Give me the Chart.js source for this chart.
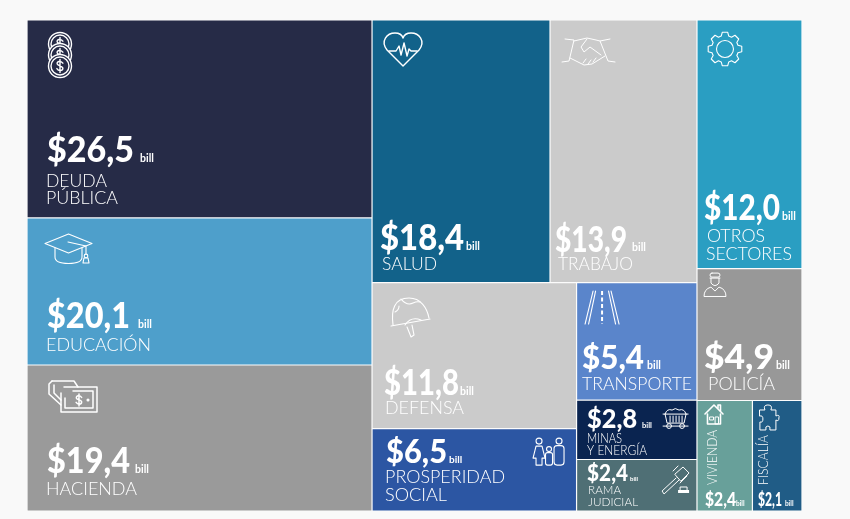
<!DOCTYPE html>
<html><head><meta charset="utf-8">
<style>html,body{margin:0;padding:0;background:#f9f9f9}canvas{display:block}</style>
<script src="https://cdn.jsdelivr.net/npm/chart.js@4/dist/chart.umd.js"></script>
</head><body><canvas id="c" width="850" height="519"></canvas>
<script>
// Labels printed on the chart, in billions
const sectors = ['DEUDA PÚBLICA','EDUCACIÓN','HACIENDA','SALUD','TRABAJO','DEFENSA','PROSPERIDAD SOCIAL','TRANSPORTE','MINAS Y ENERGÍA','RAMA JUDICIAL','OTROS SECTORES','POLICÍA','VIVIENDA','FISCALÍA'];
const values = [26.5,20.1,19.4,18.4,13.9,11.8,6.5,5.4,2.8,2.4,12.0,4.9,2.4,2.1];
// Share of the treemap area that each cell occupies in the picture, in percent
const areaShare = [17.95,13.33,13.24,12.28,10.14,7.85,4.43,3.72,1.88,1.63,6.86,3.64,1.61,1.44];
const colors = ['#262b47','#4e9fcb','#9a9a9a','#12628a','#cbcbcb','#cbcbcb','#2c56a3','#5a85cb','#0a2450','#4f6f75','#2a9ec2','#989898','#68a09a','#205c86'];

// Nesting of the treemap: 'h' splits left to right, 'v' splits top to bottom
const tree = ['h',
  ['v',0,1,2],
  ['v',['h',3,4],['h',['v',5,6],['v',7,8,9]]],
  ['v',10,11,['h',12,13]]
];
function weight(n){return typeof n==='number'?areaShare[n]:n.slice(1).reduce((s,c)=>s+weight(c),0);}
const cells=[];
function layout(n,x0,y0,x1,y1){
  if(typeof n==='number'){cells[n]={x0,x1,y0,y1};return;}
  const tot=weight(n);let p=n[0]==='h'?x0:y0;
  n.slice(1).forEach(c=>{
    const f=weight(c)/tot;
    if(n[0]==='h'){const q=p+f*(x1-x0);layout(c,p,y0,q,y1);p=q;}
    else{const q=p+f*(y1-y0);layout(c,x0,p,x1,q);p=q;}
  });
}
layout(tree,0,0,100,100);

class TreeCell extends Chart.BarController{
  static id='treecell';
  static defaults={};
  _calculateBarIndexPixels(index){
    const d=this.getDataset().data[index],s=this._cachedMeta.iScale;
    const a=s.getPixelForValue(d.x0),b=s.getPixelForValue(d.x1);
    return {base:a,head:b,center:(a+b)/2,size:b-a};
  }
}
Chart.register(TreeCell);

function dollar(g,cx,cy,s){
  g.beginPath();
  g.moveTo(cx+s*.55,cy-s*.55);
  g.bezierCurveTo(cx+s*.2,cy-s,cx-s*.65,cy-s,cx-s*.55,cy-s*.4);
  g.bezierCurveTo(cx-s*.5,cy,cx+s*.6,cy-s*.05,cx+s*.55,cy+s*.45);
  g.bezierCurveTo(cx+s*.5,cy+s,cx-s*.3,cy+s,cx-s*.6,cy+s*.5);
  g.moveTo(cx,cy-s*1.25);g.lineTo(cx,cy+s*1.25);
  g.stroke();
}
function poly(g,pts,close){
  g.beginPath();pts.forEach((p,i)=>i?g.lineTo(p[0],p[1]):g.moveTo(p[0],p[1]));
  if(close)g.closePath();g.stroke();
}
function circ(g,x,y,r,fill){g.beginPath();g.arc(x,y,r,0,Math.PI*2);if(fill){g.fillStyle=fill;g.fill();}g.stroke();}

const icons={
  coins(g,fill){
    [11,22,33].forEach(y=>{circ(g,12,y,11.5,fill);circ(g,12,y,9,fill);dollar(g,12,y,5.2);});
  },
  cap(g){
    g.lineWidth=1.1;
    poly(g,[[0,9.5],[23.5,0],[47,9.5],[23.5,19]],true);
    g.beginPath();g.moveTo(10,14);g.lineTo(10,23);g.quadraticCurveTo(10,29.5,23.5,29.5);g.quadraticCurveTo(37,29.5,37,23);g.lineTo(37,14);g.stroke();
    poly(g,[[23,8],[41,12],[41,20]]);
    circ(g,41,22,1.8);
    poly(g,[[39,24],[43,24],[44,29],[38,29]],true);
  },
  bills(g){
    g.lineWidth=1.5;
    poly(g,[[3,0],[25,0],[29,6]]);
    poly(g,[[3,0],[0,3],[0,13],[12,24]]);
    poly(g,[[5,4],[5,12],[12,19]]);
    poly(g,[[15,6],[48,6],[48,31],[12,31],[12,12]]);
    poly(g,[[24,10],[44,10],[44,27],[16,27],[16,17]]);
    dollar(g,30,19,4.8);
    circ(g,39,19,0.8);
  },
  heart(g){
    g.beginPath();g.moveTo(19,33);g.lineTo(3,17);g.bezierCurveTo(-4,8,3,0,11,0);g.bezierCurveTo(15,0,18,2,19,5);
    g.bezierCurveTo(20,2,23,0,27,0);g.bezierCurveTo(35,0,42,8,35,17);g.closePath();g.stroke();
    poly(g,[[5,18],[12,18],[15,13],[17,22],[20,10],[23,23],[25,16],[27,18],[33,18]]);
  },
  hands(g){
    g.lineWidth=1;
    poly(g,[[3,1],[12,2],[7,23],[0,24]]);
    poly(g,[[48,1],[38,3],[46,23],[53,24]]);
    poly(g,[[12,3],[25,0],[34,2],[38,3]]);
    poly(g,[[8,20],[22,27],[30,26],[43,18]]);
    poly(g,[[25,1],[19,9],[22,14],[28,9],[39,17]]);
    poly(g,[[21,25],[24,21]]);poly(g,[[26,26],[29,22]]);poly(g,[[31,24],[34,20]]);
  },
  gear(g){
    g.lineWidth=1.1;
    const n=8,pts=[];
    for(let i=0;i<n;i++){
      const a=i/n*Math.PI*2-Math.PI/2,w=Math.PI*2/n;
      pts.push([a-w*.36,13.5],[a-w*.2,17],[a+w*.2,17],[a+w*.36,13.5]);
    }
    poly(g,pts.map(p=>[p[1]*Math.cos(p[0]),p[1]*Math.sin(p[0])]),true);
    circ(g,0,0,8.5);
  },
  helmet(g){
    g.lineWidth=1.1;
    g.beginPath();g.moveTo(2,27);g.bezierCurveTo(0,12,3,0,18,0);g.bezierCurveTo(30,0,36,10,38,20);g.stroke();
    poly(g,[[0,28],[39,21]]);
    g.beginPath();g.moveTo(14,27);g.quadraticCurveTo(20,18,30,22);g.stroke();
    poly(g,[[16,29],[20,39],[23,37],[21,27]]);
    g.beginPath();g.moveTo(10,1);g.quadraticCurveTo(16,8,22,5);g.quadraticCurveTo(26,3,29,4);g.stroke();
    g.beginPath();g.moveTo(4,14);g.quadraticCurveTo(8,12,8,8);g.stroke();
  },
  family(g){
    g.lineWidth=1.1;
    circ(g,6,3,3);circ(g,26,3,3);circ(g,16,11,2.5);
    poly(g,[[3,8],[9,8],[12,20],[9,20],[9,27],[3,27],[3,20],[0,20]],true);
    g.beginPath();g.roundRect(21,7.5,10,19.5,3);g.stroke();
    g.beginPath();g.roundRect(12.5,14.5,7,12.5,2);g.stroke();
  },
  road(g){
    g.lineWidth=1.1;
    poly(g,[[0,33],[8,0]]);poly(g,[[3.5,33],[10.5,0]]);
    poly(g,[[34,33],[26,0]]);poly(g,[[30.5,33],[23.5,0]]);
    g.lineCap='butt';g.setLineDash([4,2.5]);g.lineWidth=2;poly(g,[[17,0],[17,33]]);g.setLineDash([]);
  },
  officer(g){
    g.lineWidth=1;
    g.beginPath();g.roundRect(6,0,10,4,2);g.stroke();
    poly(g,[[6,5],[16,5]]);
    g.beginPath();g.moveTo(7,5);g.lineTo(7,10);g.quadraticCurveTo(11,15,15,10);g.lineTo(15,5);g.stroke();
    g.beginPath();g.moveTo(0,23);g.quadraticCurveTo(0,16,7,14);g.lineTo(11,18);g.lineTo(15,14);g.quadraticCurveTo(22,16,22,23);g.closePath();g.stroke();
  },
  cart(g){
    g.lineWidth=1;
    g.beginPath();g.moveTo(2,6);g.quadraticCurveTo(4,0,9,2);g.quadraticCurveTo(12,-1,16,2);g.quadraticCurveTo(21,0,23,6);g.stroke();
    poly(g,[[0,6],[25,6]]);
    poly(g,[[2,6],[4,15],[21,15],[23,6]]);
    [7,10,13,16,19].forEach(x=>poly(g,[[x,8],[x,14]]));
    poly(g,[[0,18],[25,18]]);
    circ(g,6,18,2.4);circ(g,19,18,2.4);
  },
  gavel(g){
    g.lineWidth=1;
    poly(g,[[13,8],[21,1],[27,7],[19,15]],true);
    poly(g,[[11,5],[16,0]]);
    poly(g,[[18,17],[25,10]]);
    poly(g,[[14,12],[0,25],[2,28],[17,14]]);
    g.fillStyle='#fff';g.fillRect(16,24,11,3);
    poly(g,[[18,24],[18,21],[25,21],[25,24]]);
  },
  house(g){
    g.lineWidth=1.6;
    poly(g,[[0,9],[9,0],[18,9]]);
    poly(g,[[13,3],[13,0],[15.5,0],[15.5,6]]);
    poly(g,[[2.5,9],[2.5,19],[15.5,19],[15.5,9]]);
    g.lineWidth=1;
    g.strokeRect(5,12,3.5,3);g.strokeRect(10.5,12,3,7);
  },
  puzzle(g){
    g.lineWidth=1;
    g.beginPath();g.moveTo(0,5);g.lineTo(5,5);g.quadraticCurveTo(3,0,8,0);g.quadraticCurveTo(13,0,11,5);g.lineTo(16,5);g.lineTo(16,11);
    g.quadraticCurveTo(20,9,19,13);g.quadraticCurveTo(19,17,16,15);g.lineTo(16,25);g.lineTo(10,25);
    g.quadraticCurveTo(11,21,8,21);g.quadraticCurveTo(5,21,6,25);g.lineTo(0,25);g.lineTo(0,17);
    g.quadraticCurveTo(3,18,3,14);g.quadraticCurveTo(3,10,0,11);g.closePath();g.stroke();
  }
};

// Text and icon placement inside each cell, measured from the cell's top-left corner.
// v and b: x, baseline, font size, fitted width. n: text, x, baseline, fitted width.
const deco=[
 {v:[20,142,36,87],b:[113,142,10.5],ns:18,n:[['DEUDA',19,167,61],['PÚBLICA',19,184,72]],i:['coins',21,13]},
 {v:[20,110,36,83],b:[111,110,10.5],ns:18,n:[['EDUCACIÓN',19,133,105]],i:['cap',18,16]},
 {v:[20,108,36,83],b:[108,108,10.5],ns:18,n:[['HACIENDA',19,130,91]],i:['bills',22,16]},
 {v:[8,230,36,84],b:[94,230,10.5],ns:18,n:[['SALUD',10,250,55]],i:['heart',12,13]},
 {v:[5,232,36,72],b:[82,231,10.5],ns:18,n:[['TRABAJO',8,250,75]],i:['hands',12,18]},
 {v:[12,112.5,36,75],b:[88,112.5,10.5],ns:18,n:[['DEFENSA',13,131.5,79]],i:['helmet',19,15.5]},
 {v:[14,34.5,32,61],b:[77,34.5,10],ns:18,n:[['PROSPERIDAD',13,54.5,120],['SOCIAL',13,72.5,62]],i:['family',161,9.5]},
 {v:[5.5,86.5,33,62],b:[70.5,86.5,10.5],ns:18,n:[['TRANSPORTE',5.5,107.5,110]],i:['road',8.5,8.5]},
 {v:[10.5,28,26,50],b:[65.5,28,7.5],ns:13,n:[['MINAS',10.5,43,35],['Y ENERGÍA',10.5,55,60]],i:['cart',86.5,8]},
 {v:[10.5,21.5,22,41],b:[53.5,21.5,6],ns:12.5,n:[['RAMA',11.5,34.5,33],['JUDICIAL',11.5,46.5,50]],i:['gavel',85.5,6.5]},
 {v:[7,200,36,76],b:[85,200,10.5],ns:18,n:[['OTROS',10,222,58],['SECTORES',9,240,86]],i:['gear',28,29]},
 {v:[7,100.5,34,70],b:[79,100.5,10.5],ns:18,n:[['POLICÍA',11,121.5,67]],i:['officer',7,4.5]},
 {v:[8,105.5,18,31],b:[39,105.5,6.5],ns:14,r:[20,84.5],n:[['VIVIENDA',0,0,55]],i:['house',8,4.5]},
 {v:[5.5,105.5,18,24],b:[32.5,105.5,6.5],ns:14,r:[15.5,84.5],n:[['FISCALÍA',0,0,50]],i:['puzzle',7.5,4.5]}
];

function fit(g,text,x,y,w){
  g.save();g.translate(x,y);g.scale(w/g.measureText(text).width,1);g.fillText(text,0,0);g.restore();
}

const overlay={
  id:'overlay',
  afterDatasetsDraw(chart){
    const g=chart.ctx,sx=chart.scales.x,sy=chart.scales.y;
    cells.forEach((c,k)=>{
      const L=sx.getPixelForValue(c.x0),T=sy.getPixelForValue(c.y0),d=deco[k];
      g.save();g.translate(L,T);
      g.fillStyle='#fff';g.strokeStyle='#fff';g.textBaseline='alphabetic';g.textAlign='left';
      g.font='900 '+d.v[2]+'px Lato';
      fit(g,'$'+values[k].toFixed(1).replace('.',','),d.v[0],d.v[1],d.v[3]);
      g.font='700 '+d.b[2]+'px Lato';
      g.fillText('bill',d.b[0],d.b[1]);
      g.font='300 '+d.ns+'px Lato';
      if(d.r){
        g.save();g.translate(d.r[0],d.r[1]);g.rotate(-Math.PI/2);
        fit(g,d.n[0][0],0,0,d.n[0][3]);g.restore();
      }else d.n.forEach(t=>fit(g,t[0],t[1],t[2],t[3]));
      g.translate(d.i[1],d.i[2]);
      g.lineWidth=1.4;g.lineJoin='round';g.lineCap='round';
      icons[d.i[0]](g,colors[k]);
      g.restore();
    });
  }
};

new Chart(document.getElementById('c'),{
  type:'treecell',
  data:{labels:sectors,datasets:[{
    data:cells.map(c=>({x:(c.x0+c.x1)/2,y:[c.y0,c.y1],x0:c.x0,x1:c.x1})),
    backgroundColor:colors,borderColor:'#ffffff',borderWidth:0.6,borderSkipped:false
  }]},
  options:{
    responsive:false,animation:false,
    layout:{padding:{left:27,right:48,top:20,bottom:8}},
    plugins:{legend:{display:false},tooltip:{enabled:false}},
    scales:{
      x:{type:'linear',min:0,max:100,offset:false,display:false},
      y:{type:'linear',min:0,max:100,reverse:true,display:false}
    }
  },
  plugins:[overlay]
});
</script></body></html>
